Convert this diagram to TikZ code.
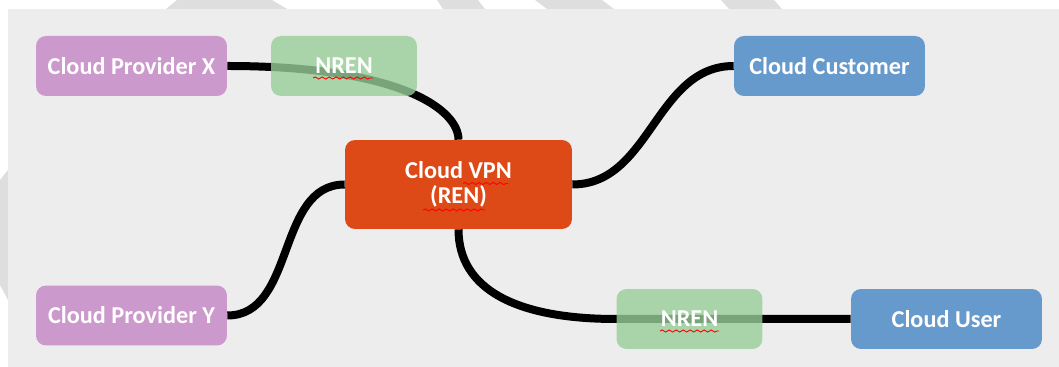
\documentclass[tikz,border=0pt]{standalone}
\usepackage{fontspec}
\setmainfont{Carlito}
\usetikzlibrary{positioning,calc,decorations.pathmorphing}

\definecolor{panelgray}{HTML}{EDEDED}
\definecolor{stripegray}{HTML}{DEDEDE}
\definecolor{providerpink}{HTML}{CC99CC}
\definecolor{nrengreen}{RGB}{152,206,152}
\definecolor{vpnorange}{HTML}{DE4A17}
\definecolor{userblue}{HTML}{6699CC}

\pgfdeclarelayer{back}
\pgfdeclarelayer{cables}
\pgfsetlayers{back,cables,main}

\tikzset{
  box/.style={rounded corners=0.2cm, inner sep=0pt, text=white,
    font=\bfseries\fontsize{13.8}{14.2}\selectfont,
    minimum width=3.82cm, minimum height=1.2cm},
  provider/.style={box, fill=providerpink},
  client/.style={box, fill=userblue},
  nren/.style={box, fill=nrengreen, fill opacity=0.8, text opacity=1,
    minimum width=2.92cm},
  cable/.style={line width=0.16cm, black},
  squig/.style={red, line width=0.5pt,
    decorate, decoration={snake, segment length=0.14cm, amplitude=0.6pt}}
}

\begin{document}
\begin{tikzpicture}[x=0.02cm,y=-0.02cm]
  \useasboundingbox (0,0) rectangle (1059,367);
  \begin{pgfonlayer}{back}
    % watermark stripes behind the panel
    \fill[stripegray] (166,9) -- (177,0) -- (272,0) -- (287,9) -- cycle;
    \fill[stripegray] (443,9) -- (437,0) -- (478,0) -- (485,9) -- cycle;
    \fill[stripegray] (547,9) -- (535,0) -- (602,0) -- (614,9) -- cycle;
    \fill[stripegray] (729,9) -- (721,0) -- (774,0) -- (782,9) -- cycle;
    \fill[stripegray] (8,170) -- (0,180) -- (0,285) -- (8,300) -- cycle;
    \fill[panelgray] (8,9) rectangle (1059,367);
  \end{pgfonlayer}

  \node[provider] (provX) at (131.5,66) {Cloud Provider X};
  \node[provider] (provY) at (131.5,315.5) {Cloud Provider Y};
  \node[nren] (nrenA) at (344,66) {NREN};
  \node[nren] (nrenB) at (689.5,319) {NREN};
  \node[box, fill=vpnorange, minimum width=4.54cm, minimum height=1.78cm,
    align=center] (vpn) at (458.5,184.5) {Cloud VPN\\(REN)};
  \node[client] (customer) at (829.5,66) {Cloud Customer};
  \node[client] (user) at (946.5,319) {Cloud User};

  \begin{pgfonlayer}{cables}
    \draw[cable] (provX.east) .. controls +(173,0) and +(0,-30) .. (vpn.north);
    \draw[cable] (provY.east) to[out=0,in=180] (vpn.west);
    \draw[cable] (vpn.east) to[out=0,in=180] (customer.west);
    \draw[cable] (vpn.south) .. controls +(0,60) and +(-100,0) .. (nrenB.west)
      -- (user.west);
  \end{pgfonlayer}

  % spell-check marks
  \draw[squig] ($(nrenA.center)+(-31,12)$) -- ++(60,0);
  \draw[squig] ($(vpn.center)+(4.5,-1)$) -- ++(45,0);
  \draw[squig] ($(vpn.center)+(-35.5,25.5)$) -- ++(62,0);
  \draw[squig] ($(nrenB.center)+(-29.5,12)$) -- ++(59,0);
\end{tikzpicture}
\end{document}
